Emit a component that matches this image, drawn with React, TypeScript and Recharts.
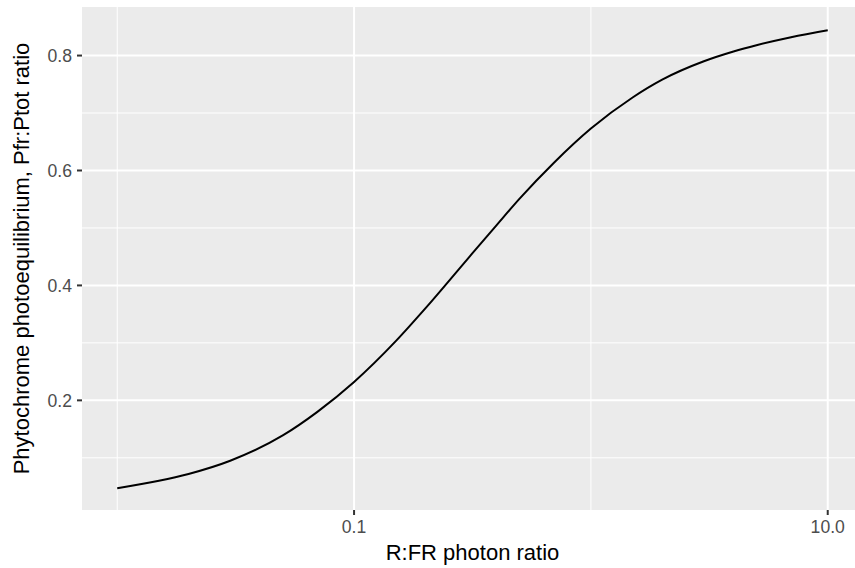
import React from 'react';
import { LineChart, Line, XAxis, YAxis, CartesianGrid } from 'recharts';

const rfrRatio = [0.01, 0.015, 0.02, 0.03, 0.05, 0.07, 0.1, 0.15, 0.2, 0.3, 0.4, 0.5, 0.7, 1, 1.5, 2, 3, 4, 5, 7, 10];
const pfrPtot = [0.047, 0.060, 0.072, 0.095, 0.139, 0.180, 0.232, 0.303, 0.360, 0.445, 0.505, 0.551, 0.614, 0.673, 0.727, 0.758, 0.790, 0.807, 0.818, 0.832, 0.844];

const xTicks = [0.1, 10];
const xTickLabels = ['0.1', '10.0'];
const xMinor = [0.01, 1];
const yTicks = [0.2, 0.4, 0.6, 0.8];
const yMinor = [0.1, 0.3, 0.5, 0.7];

const data = rfrRatio.map((x, i) => ({ x, y: pfrPtot[i] }));

const FONT = '"Liberation Sans", Arial, Helvetica, sans-serif';

export default function App() {
  return (
    <div style={{ position: 'absolute', left: 0, top: 0, width: 855, height: 568, overflow: 'hidden', background: '#fff' }}>
      <LineChart width={863} height={568} data={data} margin={{ top: 7, right: 0, bottom: 0, left: 0 }} style={{ fontFamily: FONT }}>
        <CartesianGrid
          fill="#EBEBEB"
          stroke="#FFFFFF"
          strokeWidth={1}
          horizontalValues={yMinor}
          verticalValues={xMinor}
        />
        <CartesianGrid
          stroke="#FFFFFF"
          strokeWidth={2}
          horizontalValues={yTicks}
          verticalValues={xTicks}
        />
        <XAxis
          dataKey="x"
          type="number"
          scale="log"
          domain={[0.0071, 14.09]}
          ticks={xTicks}
          tickFormatter={(v: number) => xTickLabels[xTicks.indexOf(v)] ?? String(v)}
          height={58}
          axisLine={false}
          tickLine={{ stroke: '#333333', strokeWidth: 2 }}
          tickSize={5}
          tickMargin={6}
          tick={{ fill: '#4D4D4D', fontSize: 17.6, fontFamily: FONT }}
          label={{ value: 'R:FR photon ratio', position: 'insideBottom', offset: 8, fill: '#000000', fontSize: 22, fontFamily: FONT }}
        />
        <YAxis
          type="number"
          domain={[0.0092, 0.8845]}
          ticks={yTicks}
          tickFormatter={(v: number) => v.toFixed(1)}
          width={82}
          axisLine={false}
          tickLine={{ stroke: '#333333', strokeWidth: 2 }}
          tickSize={5}
          tickMargin={5}
          tick={{ fill: '#4D4D4D', fontSize: 17.6, fontFamily: FONT }}
          label={{ value: 'Phytochrome photoequilibrium, Pfr:Ptot ratio', angle: -90, position: 'insideLeft', offset: 21, fill: '#000000', fontSize: 22, fontFamily: FONT, style: { textAnchor: 'middle' } }}
        />
        <Line type="monotone" dataKey="y" stroke="#000000" strokeWidth={2} dot={false} isAnimationActive={false} />
      </LineChart>
    </div>
  );
}
